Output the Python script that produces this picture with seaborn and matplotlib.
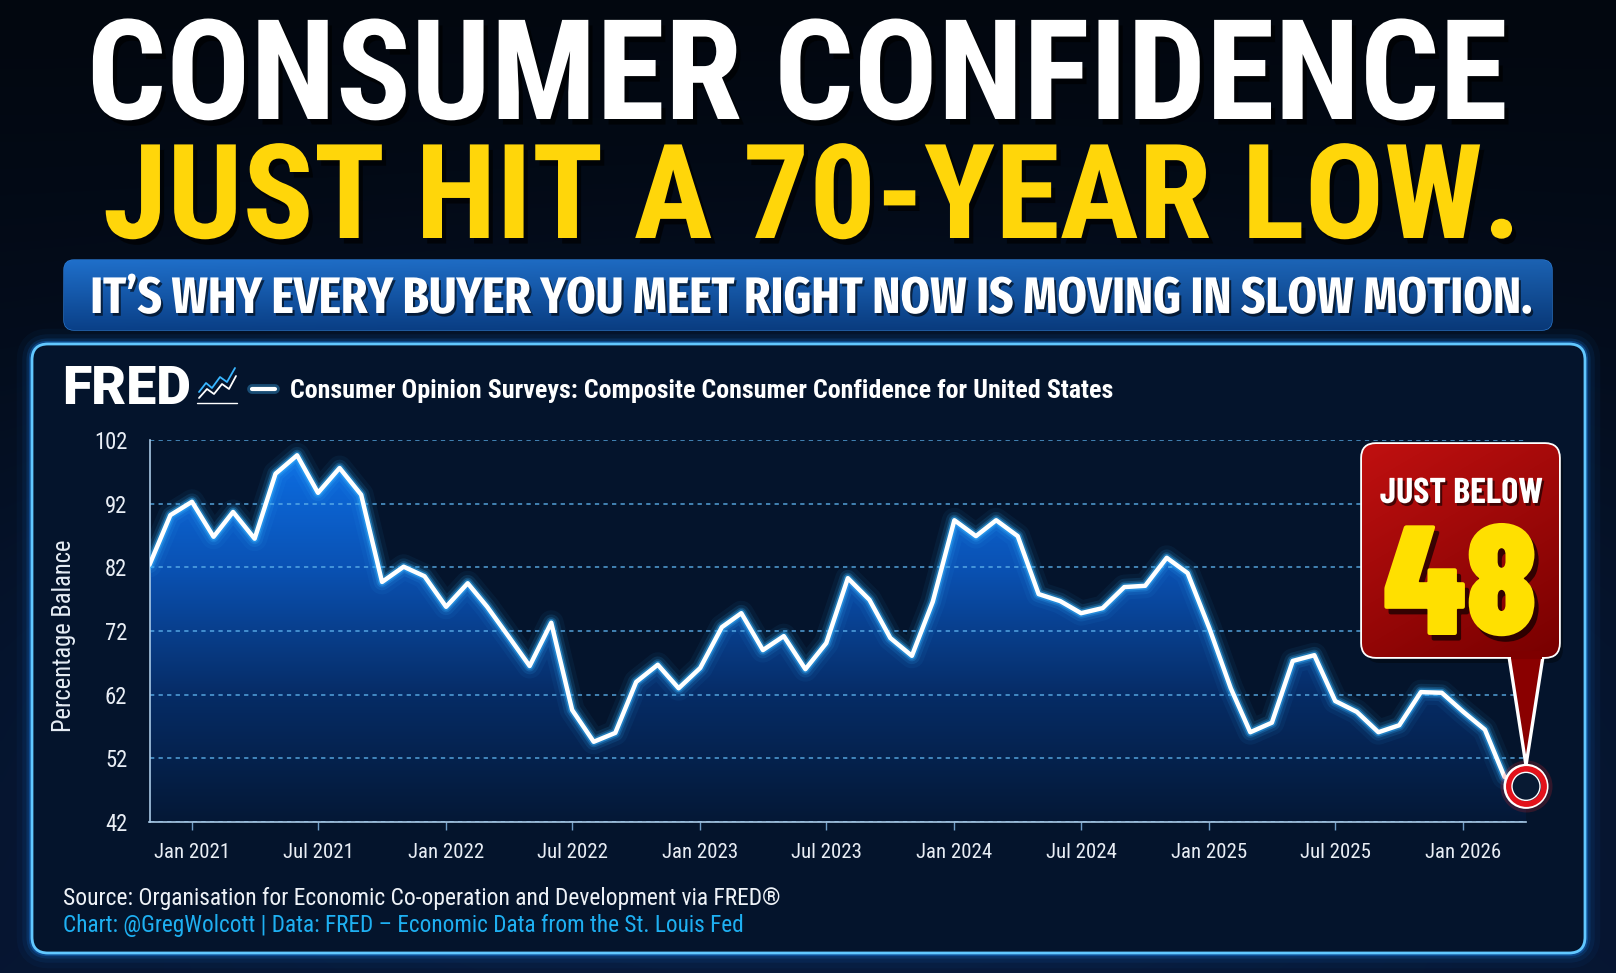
import numpy as np
import pandas as pd
import matplotlib
matplotlib.use("Agg")
import matplotlib.pyplot as plt
import matplotlib.dates as mdates
import matplotlib.font_manager as fm
import matplotlib.patheffects as pe
from matplotlib.font_manager import FontProperties
from matplotlib.textpath import TextPath
from matplotlib.patches import FancyBboxPatch, Polygon, Rectangle
from matplotlib.colors import LinearSegmentedColormap, to_rgb
import seaborn as sns

# ---------------- data ----------------
first_month = "2020-11-01"
confidence = [82.4, 90.2, 92.3, 86.8, 90.7, 86.5, 96.7, 99.6, 93.7, 97.6, 93.4,
              79.7, 82.1, 80.6, 75.8, 79.5, 75.8, 71.1, 66.5, 73.3, 59.6, 54.6,
              56.0, 64.0, 66.7, 63.0, 66.2, 72.6, 74.8, 69.0, 71.2, 66.0, 70.1,
              80.3, 76.9, 70.9, 68.1, 76.6, 89.4, 86.9, 89.4, 86.9, 77.8, 76.7,
              74.8, 75.6, 78.9, 79.1, 83.5, 81.1, 72.5, 63.0, 56.1, 57.6, 67.3,
              68.2, 61.0, 59.3, 56.1, 57.2, 62.4, 62.3, 59.3, 56.5, 49.1, 47.6]
y_ticks = [42, 52, 62, 72, 82, 92, 102]
x_tick_labels = ["Jan 2021", "Jul 2021", "Jan 2022", "Jul 2022", "Jan 2023",
                 "Jul 2023", "Jan 2024", "Jul 2024", "Jan 2025", "Jul 2025", "Jan 2026"]
title_line1 = "CONSUMER CONFIDENCE"
title_line2 = "JUST HIT A 70-YEAR LOW."
banner_text = "IT\u2019S WHY EVERY BUYER YOU MEET RIGHT NOW IS MOVING IN SLOW MOTION."
series_name = "Consumer Opinion Surveys: Composite Consumer Confidence for United States"
y_label = "Percentage Balance"
source_line = "Source: Organisation for Economic Co-operation and Development via FRED\u00ae"
credit_line = "Chart: @GregWolcott | Data: FRED \u2013 Economic Data from the St. Louis Fed"
callout_top = "JUST BELOW"
callout_value = "48"

months = pd.date_range(first_month, periods=len(confidence), freq="MS")
df = pd.DataFrame({"date": months, "value": confidence})
tick_dates = pd.to_datetime(x_tick_labels, format="%b %Y")

# ---------------- style / fonts ----------------
sns.set_theme(style="dark")
names = {f.name for f in fm.fontManager.ttflist}


def pick(cands, default):
    for c in cands:
        if c in names:
            return c
    return default


COND = pick(["Roboto Condensed", "Liberation Sans Narrow", "Noto Sans Condensed",
             "Open Sans Condensed", "DejaVu Sans Condensed"], "Roboto")
plt.rcParams["font.family"] = [COND, "DejaVu Sans"]
plt.rcParams["axes.unicode_minus"] = False

HEAVY_CANDS = ["Oswald", "Fira Sans Extra Condensed", "Sofia Sans Extra Condensed",
               "Saira ExtraCondensed", "Anton", "League Gothic", "Fjalla One",
               "Roboto Condensed", "Barlow Condensed", "Fira Sans Condensed",
               "Saira Condensed", "Sofia Sans Condensed", "Encode Sans Condensed",
               "Archivo Narrow", "PT Sans Narrow", "IBM Plex Sans Condensed"]


def ink_ratio(s, fam, weight):
    fp = FontProperties(family=fam, weight=weight, size=100)
    w = TextPath((0, 0), s, prop=fp).get_extents().width
    ch = TextPath((0, 0), "H", prop=fp).get_extents().height
    return w / ch


def pick_by_shape(s, target, weight):
    best, err = COND, 1e9
    for fam in HEAVY_CANDS:
        if fam not in names:
            continue
        try:
            r = ink_ratio(s, fam, weight)
        except Exception:
            continue
        e = abs(np.log(r / target))
        if e < err:
            best, err = fam, e
    return best


HEAVY = pick_by_shape(title_line1, 1422 / 101, "black")
BANNER = pick_by_shape(banner_text, 1440 / 36, "bold")
BIGNUM = pick_by_shape(callout_value, 154 / 112, "black")
CALL = pick_by_shape(callout_top, 163 / 25, "bold")

W, H = 1616, 973
fig = plt.figure(figsize=(W / 100, H / 100), dpi=100)
fig.patch.set_facecolor("#040a15")
renderer = fig.canvas.get_renderer()


def fit(t, w):
    bb = t.get_window_extent(renderer)
    t.set_fontsize(t.get_fontsize() * w / bb.width)
    return t


def width_of(s, size, **kw):
    t = fig.text(0, 0, s, fontsize=size, **kw)
    w = t.get_window_extent(renderer).width
    t.remove()
    return w


shadow = [pe.SimplePatchShadow(offset=(3, -4), shadow_rgbFace="black", alpha=0.65), pe.Normal()]
soft_shadow = [pe.SimplePatchShadow(offset=(1.5, -2), shadow_rgbFace="black", alpha=0.6), pe.Normal()]

# ---------------- background layer ----------------
bg = fig.add_axes([0, 0, 1, 1], zorder=0)
bg.set_xlim(0, W)
bg.set_ylim(H, 0)
bg.axis("off")

yy = np.linspace(0, 1, 220)[:, None]
xx = np.linspace(0, 1, 360)[None, :]
t = yy + 0 * xx
top_c, bot_c = np.array(to_rgb("#02070f")), np.array(to_rgb("#061530"))
rgb = top_c + (bot_c - top_c) * t[..., None]
d = ((xx - 0.5) / 0.55) ** 2 + ((yy - 0.68) / 0.40) ** 2
rgb = rgb + np.exp(-2 * d)[..., None] * np.array(to_rgb("#0b2a5c")) * 0.45
bg.imshow(np.clip(rgb, 0, 1), extent=[0, W, H, 0], aspect="auto", zorder=0,
          interpolation="bilinear")

card = dict(xy=(32, 344), width=1553, height=609)
for lw, a in [(22, 0.04), (14, 0.07), (8, 0.14), (4.5, 0.3)]:
    bg.add_patch(FancyBboxPatch(card["xy"], card["width"], card["height"],
                                boxstyle="round,pad=0,rounding_size=16", fc="none",
                                ec="#1c8cff", lw=lw, alpha=a, zorder=1))
bg.add_patch(FancyBboxPatch(card["xy"], card["width"], card["height"],
                            boxstyle="round,pad=0,rounding_size=16", fc="#04142c",
                            ec="#62c8ff", lw=2.0, zorder=2))

banner = FancyBboxPatch((64, 260), 1488, 70, boxstyle="round,pad=0,rounding_size=10",
                        fc="#0f55a8", ec="#2b78cf", lw=1.0, zorder=2)
bg.add_patch(banner)
by = np.linspace(0, 1, 60)[:, None]
bx = np.linspace(0, 1, 200)[None, :]
b_top, b_bot = np.array(to_rgb("#1f6fca")), np.array(to_rgb("#0a4088"))
b_rgb = b_top + (b_bot - b_top) * (by + 0 * bx)[..., None]
b_rgb = b_rgb * (1.0 - 0.12 * bx)[..., None]
bim = bg.imshow(np.clip(b_rgb, 0, 1), extent=[64, 1552, 330, 260], aspect="auto",
                zorder=3, interpolation="bilinear")
bim.set_clip_path(banner)
bg.set_xlim(0, W)
bg.set_ylim(H, 0)

t1 = bg.text(797, 119, title_line1, ha="center", va="baseline", color="white",
             fontsize=80, fontweight="black", family=[HEAVY, "DejaVu Sans"], zorder=5,
             path_effects=shadow)
fit(t1, 1422)
t2 = bg.text(812, 238, title_line2, ha="center", va="baseline", color="#FFD60A",
             fontsize=80, fontweight="black", family=[HEAVY, "DejaVu Sans"], zorder=5,
             path_effects=shadow)
fit(t2, 1419)
t3 = bg.text(811, 313, banner_text, ha="center", va="baseline", color="white",
             fontsize=30, fontweight="bold", family=[BANNER, "DejaVu Sans"], zorder=5,
             path_effects=soft_shadow)
fit(t3, 1440)

tf = bg.text(62, 404, "FRED", ha="left", va="baseline", color="white", fontsize=30,
             fontweight="black", family=["Roboto", "DejaVu Sans"], zorder=5)
fit(tf, 129)
bg.plot([199, 206, 212, 220, 227, 235], [392, 383, 388, 377, 382, 368],
        color="#39b6ff", lw=1.3, zorder=5)
bg.plot([199, 207, 214, 222, 229, 236], [398, 389, 394, 384, 389, 376],
        color="white", lw=1.3, zorder=5)
bg.plot([197, 237], [403, 403], color="white", lw=1.0, zorder=5)
bg.plot([252, 275], [389, 389], color="#42b8ff", lw=7, alpha=0.35,
        solid_capstyle="round", zorder=5)
bg.plot([252, 275], [389, 389], color="white", lw=3, solid_capstyle="round", zorder=6)
ts = bg.text(290, 398, series_name, ha="left", va="baseline", color="white",
             fontsize=16, fontweight="bold", zorder=5)
fit(ts, 821)

s1 = bg.text(63, 905, source_line, ha="left", va="baseline", color="#eef2f7",
             fontsize=14, zorder=5)
fit(s1, 722)
s2 = bg.text(63, 932, credit_line, ha="left", va="baseline", color="#1eb0f2",
             fontsize=14, zorder=5)
fit(s2, 682)

# ---------------- chart axes ----------------
ax = fig.add_axes([149.5 / W, 1 - 822 / H, (1526 - 149.5) / W, (822 - 440) / H], zorder=2)
ax.set_facecolor("none")
xnum = mdates.date2num(months)

poly = ax.fill_between(months, confidence, 42, color="none", lw=0)
cmap = LinearSegmentedColormap.from_list("fillgrad", ["#0d72ea", "#0a52b4", "#062c66", "#041836"])
grad = np.linspace(0, 1, 256)[:, None]
im = ax.imshow(grad, extent=[xnum[0], xnum[-1], 42, 102], aspect="auto", cmap=cmap,
               zorder=0.5, interpolation="bilinear")
im.set_clip_path(poly.get_paths()[0], ax.transData)

for lw, a in [(18, 0.06), (12, 0.12), (8, 0.22), (5.5, 0.45)]:
    sns.lineplot(data=df, x="date", y="value", ax=ax, color="#35b2ff", lw=lw, alpha=a,
                 zorder=3, legend=False)
sns.lineplot(data=df, x="date", y="value", ax=ax, color="white", lw=3.2, zorder=4,
             legend=False)
for line in ax.get_lines():
    line.set_solid_joinstyle("round")
    line.set_solid_capstyle("round")

ax.set_xlim(xnum[0], xnum[-1])
ax.set_ylim(42, 102)
ax.set_yticks(y_ticks)
ax.set_yticklabels([str(v) for v in y_ticks])
ax.set_xticks(tick_dates)
ax.set_xticklabels(x_tick_labels)
ax.set_xlabel("")

tick_size = 15.0 * 76.5 / width_of("Jan 2021", 15.0)
ax.tick_params(axis="y", length=0, pad=16, labelsize=tick_size * 1.08, labelcolor="#e9eef5")
ax.tick_params(axis="x", length=6, width=1, color="#6f9cc7", pad=9, labelsize=tick_size,
               labelcolor="#e9eef5", bottom=True)
ax.yaxis.grid(True, color="#5cb0ea", ls=(0, (2.8, 2.8)), lw=1.1, alpha=0.9)
ax.xaxis.grid(False)
ax.set_axisbelow("line")
for side in ["top", "right"]:
    ax.spines[side].set_visible(False)
for side in ["left", "bottom"]:
    ax.spines[side].set_visible(True)
    ax.spines[side].set_color("#a9c9e6")
    ax.spines[side].set_linewidth(1.2)

ylab_size = 15.0 * 193 / width_of(y_label, 15.0)
ax.set_ylabel(y_label, color="#e6edf5", fontsize=ylab_size)
ax.yaxis.set_label_coords((64 - 149.5) / (1526 - 149.5), (822 - 635.5) / (822 - 440))
ax.yaxis.label.set_va("center")

last_x, last_y = months[-1], confidence[-1]
ax.scatter([last_x], [last_y], s=(2 * 26 * 0.72) ** 2, color="#ff2a2a", alpha=0.18,
           lw=0, zorder=6, clip_on=False)
ax.scatter([last_x], [last_y], s=(2 * 21 * 0.72) ** 2, fc="none", ec="white", lw=2.2,
           zorder=7, clip_on=False)
ax.scatter([last_x], [last_y], s=(2 * 17.5 * 0.72) ** 2, fc="#081a33", ec="#e3121b",
           lw=4.2, zorder=8, clip_on=False)
ax.scatter([last_x], [last_y], s=(2 * 14 * 0.72) ** 2, fc="none", ec="white", lw=1.0,
           zorder=9, clip_on=False)

# ---------------- callout layer ----------------
top = fig.add_axes([0, 0, 1, 1], zorder=5)
top.set_xlim(0, W)
top.set_ylim(H, 0)
top.axis("off")
top.patch.set_alpha(0)

dx, dy = ax.transData.transform((mdates.date2num(last_x), last_y))
tip_x, tip_y = dx, H - dy - 21

box = FancyBboxPatch((1362, 444), 197, 213, boxstyle="round,pad=0,rounding_size=14",
                     fc="#9e0000", ec="white", lw=2.6, zorder=3)
shadow_box = FancyBboxPatch((1366, 450), 197, 213, boxstyle="round,pad=0,rounding_size=14",
                            fc="black", ec="none", alpha=0.35, zorder=1)
pointer = Polygon([(tip_x - 18, 650), (tip_x + 18, 650), (tip_x, tip_y)], closed=True,
                  fc="#8a0000", ec="white", lw=2.4, joinstyle="miter", zorder=2)
top.add_patch(shadow_box)
top.add_patch(pointer)
top.add_patch(box)
cy = np.linspace(0, 1, 80)[:, None]
cx = np.linspace(0, 1, 80)[None, :]
r_top, r_bot = np.array(to_rgb("#c01010")), np.array(to_rgb("#780000"))
c_rgb = r_top + (r_bot - r_top) * (0.65 * cy + 0.35 * cx)[..., None]
cim = top.imshow(np.clip(c_rgb, 0, 1), extent=[1362, 1559, 657, 444], aspect="auto",
                 zorder=3.5, interpolation="bilinear")
cim.set_clip_path(box)
top.add_patch(Rectangle((tip_x - 15.5, 651), 31, 8, fc="#7e0000", ec="none", zorder=4))
top.set_xlim(0, W)
top.set_ylim(H, 0)

c1 = top.text(1461.5, 503, callout_top, ha="center", va="baseline", color="white",
              fontsize=22, fontweight="bold", family=[CALL, "DejaVu Sans"], zorder=6,
              path_effects=soft_shadow)
fit(c1, 163)
c2 = top.text(1460, 635, callout_value, ha="center", va="baseline", color="#FFE000",
              fontsize=100, fontweight="black", family=[BIGNUM, "DejaVu Sans"], zorder=6,
              path_effects=shadow)
fit(c2, 154)

fig.savefig("out.png", dpi=100, facecolor=fig.get_facecolor())
